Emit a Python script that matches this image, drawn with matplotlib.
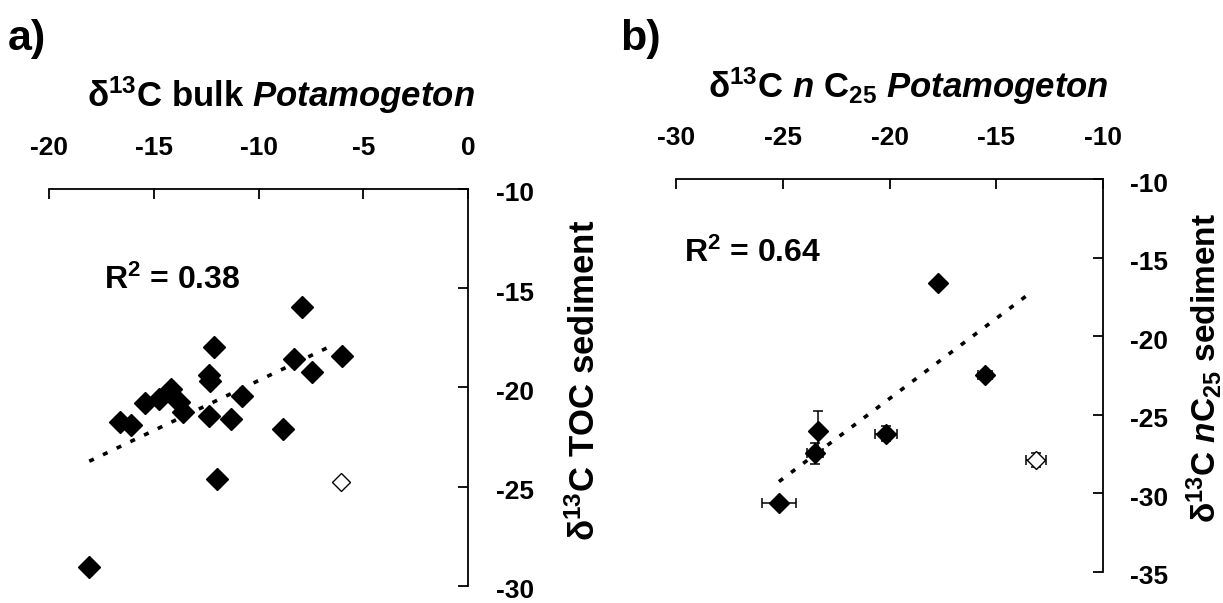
import numpy as np
import matplotlib
matplotlib.use("Agg")
from matplotlib import pyplot as plt
import matplotlib.transforms as mtransforms

plt.rcParams['font.family'] = ['Liberation Sans', 'DejaVu Sans']
plt.rcParams['font.weight'] = 'bold'
plt.rcParams['axes.unicode_minus'] = False
plt.rcParams['mathtext.fontset'] = 'custom'
plt.rcParams['mathtext.rm'] = 'Liberation Sans:bold'
plt.rcParams['mathtext.bf'] = 'Liberation Sans:bold'
plt.rcParams['mathtext.it'] = 'Liberation Sans:italic:bold'

# Panel a: bulk Potamogeton vs TOC sediment
a_x = [-7.91, -12.15, -6.04, -8.31, -7.44, -12.39, -12.30, -14.21, -14.74, -15.44,
       -13.79, -13.62, -10.80, -12.39, -11.33, -16.63, -16.10, -8.84, -12.01, -18.09]
a_y = [-15.95, -17.98, -18.40, -18.55, -19.24, -19.36, -19.70, -20.08, -20.57, -20.77,
       -20.74, -21.26, -20.42, -21.46, -21.60, -21.75, -21.92, -22.08, -24.60, -29.06]
a_open_x = [-6.09]
a_open_y = [-24.74]
a_r2 = "0.38"

# Panel b: nC25 Potamogeton vs nC25 sediment
b_x = [-17.73, -15.53, -20.15, -23.36, -23.49, -25.17]
b_y = [-16.64, -22.47, -26.20, -26.01, -27.45, -30.60]
b_xerr = [0.12, 0.33, 0.52, 0.10, 0.37, 0.81]
b_yerr = [0.12, 0.12, 0.47, 1.25, 0.66, 0.12]
b_open_x = [-13.15]
b_open_y = [-27.85]
b_open_xerr = [0.46]
b_open_yerr = [0.44]
b_r2 = "0.64"

a_xticks = [-20, -15, -10, -5, 0]
a_yticks = [-30, -25, -20, -15, -10]
b_xticks = [-30, -25, -20, -15, -10]
b_yticks = [-35, -30, -25, -20, -15, -10]

W, H = 1223, 603
fig = plt.figure(figsize=(W / 100, H / 100), dpi=100)


def px_box(x0, y0, x1, y1):
    return [x0 / W, 1 - y1 / H, (x1 - x0) / W, (y1 - y0) / H]


def style_axes(ax, xlim, ylim, xticks, yticks, ypad):
    ax.set_xlim(*xlim)
    ax.set_ylim(*ylim)
    ax.xaxis.tick_top()
    ax.yaxis.tick_right()
    ax.spines['left'].set_visible(False)
    ax.spines['bottom'].set_visible(False)
    for s in ('top', 'right'):
        ax.spines[s].set_linewidth(1.3)
    ax.set_xticks(xticks)
    ax.set_yticks(yticks)
    ax.tick_params(axis='x', direction='in', length=7, width=1.3, labelsize=19, pad=21)
    ax.tick_params(axis='y', direction='in', length=7, width=1.3, labelsize=19, pad=ypad)
    # labels on the right sit a little below their ticks
    shift = mtransforms.ScaledTranslation(0, -3 / 100, fig.dpi_scale_trans)
    for lab in ax.get_yticklabels():
        lab.set_transform(lab.get_transform() + shift)


def trend(ax, x, y, x_end):
    k, b = np.polyfit(x, y, 1)
    xs = np.array([min(x), x_end])
    ax.plot(xs, k * xs + b, color='black', lw=2.6, linestyle=(0, (1.4, 2.8)), zorder=2)


# ---- panel a
ax1 = fig.add_axes(px_box(49.3, 188.7, 468, 586))
style_axes(ax1, (-20, 0), (-30, -10), a_xticks, a_yticks, 20)
trend(ax1, a_x, a_y, -6.38)
ax1.plot(a_x, a_y, 'D', color='black', markersize=11, zorder=3)
ax1.plot(a_open_x, a_open_y, 'D', markerfacecolor='white', markeredgecolor='black',
         markeredgewidth=1.0, markersize=9, zorder=3)
ax1.text(-17.4, -14.6, r'R$^{2}$ = ' + a_r2, fontsize=23, fontweight='bold', va='center')

# ---- panel b
ax2 = fig.add_axes(px_box(675.7, 179, 1103.3, 572))
style_axes(ax2, (-30, -10), (-35, -10), b_xticks, b_yticks, 19)
trend(ax2, b_x, b_y, -13.3)
ax2.errorbar(b_x, b_y, xerr=b_xerr, yerr=b_yerr, fmt='D', color='black', markersize=10,
             elinewidth=1.1, capsize=3.5, capthick=1.1, zorder=3)
ax2.errorbar(b_open_x, b_open_y, xerr=b_open_xerr, yerr=b_open_yerr, fmt='D',
             markerfacecolor='white', markeredgecolor='black', ecolor='black',
             markersize=9, elinewidth=1.1, capsize=3.5, capthick=1.1, zorder=3)
ax2.text(-29.6, -14.7, r'R$^{2}$ = ' + b_r2, fontsize=23, fontweight='bold', va='center')

# ---- panel letters, titles and side labels
fig.text(8 / W, 1 - 50 / H, 'a)', fontsize=31, fontweight='bold', ha='left', va='baseline')
fig.text(620 / W, 1 - 50 / H, 'b)', fontsize=31, fontweight='bold', ha='left', va='baseline')

fig.text(281 / W, 1 - 107 / H, r'δ$^{13}$C bulk $\mathit{Potamogeton}$',
         fontsize=25, fontweight='bold', ha='center', va='baseline')
fig.text(908 / W, 1 - 98 / H, r'δ$^{13}$C $\mathit{n}$ C$_{25}$ $\mathit{Potamogeton}$',
         fontsize=25, fontweight='bold', ha='center', va='baseline')

fig.text(585 / W, 1 - 380 / H, r'δ$^{13}$C TOC sediment', fontsize=25,
         fontweight='bold', rotation=90, ha='center', va='center')
fig.text(1204 / W, 1 - 368 / H, r'δ$^{13}$C $\mathit{n}$C$_{25}$ sediment', fontsize=24,
         fontweight='bold', rotation=90, ha='center', va='center')

fig.savefig("out.png", dpi=100)
